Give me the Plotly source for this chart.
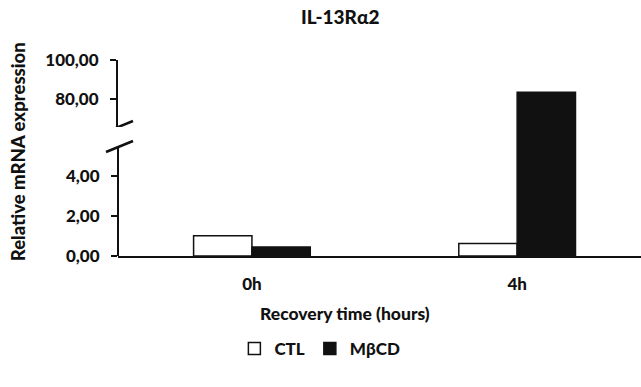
import plotly.graph_objects as go

# Relative IL-13Rα2 mRNA expression after recovery
times = ["0h", "4h"]
ctl = [1.01, 0.63]
mbcd = [0.45, 83.4]
series_names = ["CTL", "MβCD"]

lower_ticks = [0, 2, 4]
upper_ticks = [80, 100]

FONT = "Lato"
BLACK = "#111111"
WEIGHT = 900

fig = go.Figure()

# Bars are drawn on both y-axes; each axis clips to its own segment of the broken scale
for axis, show in (("y", True), ("y2", False)):
    fig.add_trace(go.Bar(
        x=times, y=ctl, name=series_names[0], yaxis=axis, showlegend=show,
        marker=dict(color="white", line=dict(color=BLACK, width=1.5)),
    ))
    fig.add_trace(go.Bar(
        x=times, y=mbcd, name=series_names[1], yaxis=axis, showlegend=show,
        marker=dict(color=BLACK, line=dict(color=BLACK, width=1.5)),
    ))

tickfont = dict(family=FONT, size=17, color=BLACK, weight=WEIGHT)

fig.update_layout(
    width=641, height=387,
    margin=dict(l=118, r=0, t=60, b=131),
    paper_bgcolor="white", plot_bgcolor="white",
    separators=",.",
    barmode="group", bargap=0.56, bargroupgap=0,
    title=dict(text="IL-13Rα2", x=0.425, xref="paper", xanchor="center",
               y=1 - 17 / 387, yanchor="middle",
               font=dict(family=FONT, size=19, color=BLACK, weight=WEIGHT)),
    xaxis=dict(
        type="category", range=[-0.505, 1.467],
        showline=True, linecolor=BLACK, linewidth=2,
        ticks="", showgrid=False, zeroline=False,
        tickfont=tickfont, ticklabelstandoff=12,
        anchor="y",
    ),
    yaxis=dict(
        domain=[0, 0.658], range=[0, 6.45],
        tickvals=lower_ticks, tickformat=".2f",
        ticks="outside", ticklen=6, tickwidth=2, tickcolor=BLACK,
        showline=False, showgrid=False, zeroline=False,
        tickfont=tickfont, ticklabelstandoff=8,
    ),
    yaxis2=dict(
        domain=[0.658, 1], range=[65.6, 100],
        tickvals=upper_ticks, tickformat=".2f",
        ticks="outside", ticklen=6, tickwidth=2, tickcolor=BLACK,
        showline=True, linecolor=BLACK, linewidth=2,
        showgrid=False, zeroline=False,
        tickfont=tickfont, ticklabelstandoff=8,
        anchor="x",
    ),
    legend=dict(
        orientation="h", x=0.386, xanchor="center", y=-0.474, yanchor="middle",
        font=dict(family=FONT, size=17, color=BLACK, weight=WEIGHT),
        itemwidth=30, traceorder="normal",
    ),
    showlegend=True,
)

# Lower segment of the y-axis line (up to the break)
fig.add_shape(type="line", xref="paper", yref="y", x0=0, x1=0, y0=0, y1=5.45,
              line=dict(color=BLACK, width=2))

# Break marks on the y-axis
for yb in (5.45, 65.6):
    yr = "y" if yb < 10 else "y2"
    fig.add_shape(type="line", xref="paper", yref=yr,
                  xsizemode="pixel", ysizemode="pixel", xanchor=0, yanchor=yb,
                  x0=-12, x1=15, y0=-5, y1=6,
                  line=dict(color=BLACK, width=2.5))

# Axis titles
fig.add_annotation(text="Relative mRNA expression", textangle=-90,
                   xref="paper", yref="paper", x=-0.191, y=0.53,
                   xanchor="center", yanchor="middle", showarrow=False,
                   font=dict(family=FONT, size=18.5, color=BLACK, weight=WEIGHT))
fig.add_annotation(text="Recovery time (hours)",
                   xref="paper", yref="paper", x=0.434, y=-0.291,
                   xanchor="center", yanchor="middle", showarrow=False,
                   font=dict(family=FONT, size=17.5, color=BLACK, weight=WEIGHT))

fig.write_html("out.html")
